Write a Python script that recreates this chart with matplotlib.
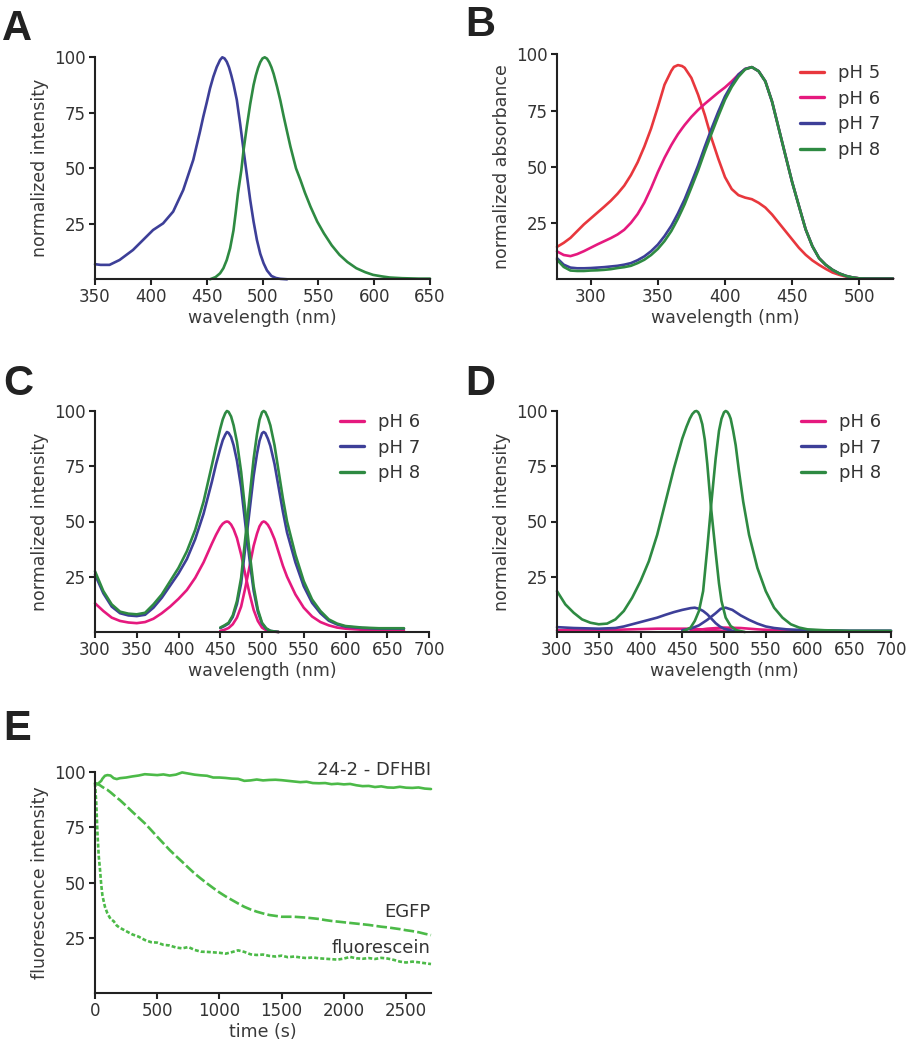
import matplotlib
matplotlib.use("Agg")
import matplotlib.pyplot as plt

plt.rcParams['font.family'] = ['DejaVu Sans']
plt.rcParams['lines.solid_joinstyle'] = 'round'
plt.rcParams['lines.solid_capstyle'] = 'round'

# ---------------- data ----------------
# Panel A
A_ex_wl = [350, 355, 363, 372, 384, 393, 402, 411, 420, 429, 438, 444, 447, 450, 453, 456, 459, 462, 464,
           466, 468, 470, 472, 474, 477, 480, 483, 486, 489, 492, 495, 498, 501, 504, 508, 512, 516, 522]
A_ex = [6.8, 6.5, 6.5, 8.7, 13.2, 17.7, 22.2, 25.2, 30.5, 40.2, 53.8, 66.5, 73.3, 79.5, 86, 91.3, 95.6,
        98.8, 100, 99.5, 98, 95.5, 92, 88, 80.8, 70, 58.3, 47, 35.7, 26, 17.7, 11.5, 7.2, 4, 1.5, 0.6,
        0.2, 0]
A_em_wl = [453, 458, 462, 465, 468, 471, 474, 476, 478, 481, 483, 486, 489, 492, 494, 496, 498, 500, 502,
           504, 506, 508, 510, 513, 516, 519, 522, 525, 530, 534, 538, 543, 549, 555, 562, 569, 576, 584,
           592, 599, 607, 614, 625, 640, 650]
A_em = [0, 1, 2.7, 5, 8.7, 14, 22, 30, 38.7, 49, 58, 69, 79, 87.5, 91.8, 95.2, 97.8, 99.5, 100, 99.4,
        97.8, 95.5, 92.5, 86.8, 80.5, 73.3, 66.5, 59.8, 50, 44.7, 39, 32.7, 26, 20.7, 15.3, 11, 7.8, 5,
        3.2, 2, 1.3, 0.8, 0.5, 0.3, 0.3]

# Panel B (absorbance)
B_wl = [275, 280, 285, 290, 295, 300, 305, 310, 315, 320, 325, 330, 335, 340, 345, 350, 355, 360, 362,
        365, 368, 370, 375, 380, 385, 390, 395, 400, 405, 410, 415, 420, 425, 430, 435, 440, 445, 450,
        455, 460, 465, 470, 475, 480, 485, 490, 495, 500, 505, 510, 515, 520, 525]
B_pH5 = [14.4, 16.2, 18.4, 21.4, 24.4, 27.0, 29.6, 32.2, 34.9, 38.0, 41.6, 46.3, 52.0, 59.0, 67.0, 76.5,
         86.5, 92.6, 94.4, 95.2, 94.8, 94.0, 89.5, 82.0, 73.0, 62.6, 53.6, 45.4, 40.1, 37.4, 36.3, 35.6,
         34.0, 31.9, 28.8, 25.1, 21.4, 17.7, 14.0, 10.9, 8.4, 6.4, 4.6, 3.0, 2.0, 1.2, 0.7, 0.4, 0.3,
         0.3, 0.3, 0.3, 0.3]
B_pH6 = [12.4, 10.8, 10.3, 11.2, 12.5, 14.0, 15.5, 16.9, 18.3, 19.9, 22.0, 25.1, 29.0, 34.1, 40.5, 47.6,
         54.0, 59.6, 61.6, 64.5, 67.0, 68.6, 72.2, 75.3, 78.0, 80.5, 83.0, 85.3, 88.0, 91.0, 93.5, 94.3,
         92.5, 88.0, 79.0, 67.0, 55.0, 43.1, 32.6, 22.2, 14.7, 9.4, 6.4, 4.2, 2.6, 1.5, 0.8, 0.4, 0.3,
         0.3, 0.3, 0.3, 0.3]
B_pH7 = [9.4, 6.5, 5.2, 4.9, 4.9, 5.0, 5.2, 5.4, 5.7, 6.0, 6.5, 7.2, 8.5, 10.2, 12.5, 15.4,
         19.2, 23.7, 25.9, 29.3, 33.1, 35.6, 43.0, 50.6, 59.0, 67.0, 74.5, 81.3, 86.5, 91.0, 93.5, 94.3,
         92.5, 88.0, 79.0, 67.0, 55.0, 43.1, 32.6, 22.2, 14.7, 9.4, 6.4, 4.2, 2.6, 1.5, 0.8, 0.4, 0.3,
         0.3, 0.3, 0.3, 0.3]
B_pH8 = [8.7, 5.5, 3.9, 3.7, 3.7, 3.9, 4.0, 4.2, 4.5, 5.0, 5.4, 6.0, 7.2, 8.7, 10.8, 13.5,
         17.0, 21.4, 23.6, 27.0, 30.8, 33.4, 40.8, 48.4, 56.8, 64.8, 72.5, 79.8, 85.5, 90.0, 93.3, 94.3,
         92.5, 88.0, 79.0, 67.0, 55.0, 43.1, 32.6, 22.2, 14.7, 9.4, 6.4, 4.2, 2.6, 1.5, 0.8, 0.4, 0.3,
         0.3, 0.3, 0.3, 0.3]

# Panel C
C_ex_wl = [300, 310, 320, 330, 340, 350, 360, 370, 380, 390, 400, 410, 420, 430, 440, 445, 450, 453, 456,
           458, 460, 463, 466, 470, 475, 480, 485, 490, 495, 500, 505, 510, 520]
C_ex_pH6 = [13, 9.5, 6.5, 5, 4.3, 4, 4.5, 6, 8.5, 11.5, 15, 19, 24.5, 31.5, 40, 44, 47.5, 49, 49.8,
            50, 49.8, 48.6, 46.5, 42.5, 35, 26, 17.5, 10, 5, 2, 0.8, 0.3, 0]
C_ex_pH7 = [26, 17.5, 11.5, 8.5, 7.5, 7.2, 7.8, 11, 15.5, 21, 26.5, 33, 42, 53.5, 68, 76, 83, 86.8, 89.3,
            90.5, 90.1, 88.2, 84.5, 77.5, 65.5, 49, 33, 18.6, 9.2, 3.8, 1.5, 0.5, 0]
C_ex_pH8 = [27.5, 18.5, 12.5, 9.2, 8.3, 8.0, 8.7, 12.5, 17.0, 23.0, 29.0, 36.5, 46.2, 59.0, 75.5, 84, 92,
            96.2, 99, 100, 99.6, 97.5, 93.5, 86, 72.5, 54.5, 36.5, 20.7, 10.2, 4.2, 1.7, 0.5, 0]
C_em_wl = [450, 455, 460, 465, 470, 475, 480, 485, 490, 494, 497, 500, 502, 504, 507, 510, 515, 520, 525,
           530, 540, 550, 560, 570, 580, 590, 600, 620, 640, 670]
C_em_pH6 = [0.5, 1, 1.8, 3.5, 6.5, 11.5, 20, 29.5, 39, 44.5, 47.8, 49.6, 50, 49.7, 48.5, 46.5, 42, 36,
            30, 25, 17, 11, 7, 4.5, 3, 2, 1.5, 1, 0.8, 0.8]
C_em_pH7 = [1.8, 2.7, 3.8, 6.8, 12.6, 22, 38.3, 54.5, 70.7, 80.6, 86.5, 89.9, 90.5, 90, 87.5, 84.2, 76,
            65.3, 54.5, 45, 31.5, 20.7, 13.2, 8.5, 5.1, 3.4, 2.4, 1.8, 1.5, 1.5]
C_em_pH8 = [2, 3, 4.2, 7.5, 14, 24.5, 42.5, 60.5, 78.5, 89.5, 96, 99.4, 100, 99.5, 97, 93.5, 84.5, 72.5,
            60.5, 50, 35, 23, 14.7, 9.5, 5.7, 3.8, 2.7, 2, 1.7, 1.7]

# Panel D
D_ex8_wl = [300, 310, 320, 330, 340, 350, 360, 370, 380, 390, 400, 410, 420, 430, 440, 450, 455, 459, 462,
            465, 467, 469, 471, 474, 477, 480, 484, 487, 490, 494, 497, 502, 508, 515, 525]
D_ex_pH8 = [18.5, 12.5, 8.7, 5.7, 4.2, 3.5, 3.8, 5.7, 9.5, 15.5, 23, 32, 44, 59, 74, 87.5, 92.8, 96.5,
            98.6, 99.8, 100, 99.5, 98, 94, 87, 76, 58, 47, 36, 22, 14, 6.5, 2.7, 0.8, 0]
D_em8_wl = [450, 460, 465, 470, 475, 480, 485, 490, 494, 497, 500, 502, 504, 506, 508, 511, 514, 518, 523,
            530, 540, 550, 560, 570, 580, 590, 600, 620, 650, 700]
D_em_pH8 = [0, 2, 5, 9.5, 18.5, 38, 59, 78.5, 91, 96.5, 99.4, 100, 99.6, 98.4, 96.5, 91, 84.5, 72.5, 59,
            44, 29, 18.5, 11, 6.5, 3.5, 2, 1.2, 0.8, 0.5, 0.5]
D_ex7_wl = [300, 320, 350, 370, 380, 390, 400, 410, 420, 430, 440, 450, 460, 465, 470, 475, 480, 485, 490,
            495, 500, 510, 520]
D_ex_pH7 = [2.2, 1.8, 1.5, 1.8, 2.5, 3.5, 4.5, 5.5, 6.5, 7.8, 9, 10, 10.8, 11, 10.5, 9.5, 8, 6, 4, 2.5,
            1.5, 0.6, 0.3]
D_em7_wl = [450, 460, 470, 480, 490, 496, 502, 510, 520, 530, 540, 550, 560, 575, 600, 650, 700]
D_em_pH7 = [0.8, 1.5, 3, 5.5, 8.5, 10.5, 11, 10, 7.5, 5.5, 3.8, 2.5, 1.8, 1.2, 0.8, 0.6, 0.6]
D_ex6_wl = [300, 350, 400, 420, 440, 460, 480, 500, 520]
D_ex_pH6 = [0.8, 0.8, 1.3, 1.5, 1.5, 1.5, 1, 0.5, 0.2]
D_em6_wl = [460, 480, 500, 520, 540, 560, 580, 620, 700]
D_em_pH6 = [0.5, 1.5, 2, 1.8, 1.2, 0.8, 0.5, 0.3, 0.3]

# Panel E (photobleaching)
E_time = [0, 10, 20, 30, 40, 50, 60, 80, 100, 125, 150, 175, 200, 250, 300, 350, 400, 450, 500, 550, 600,
          650, 700, 750, 800, 850, 900, 950, 1000, 1050, 1100, 1150, 1200, 1250, 1300, 1350, 1400, 1450,
          1500, 1550, 1600, 1650, 1700, 1750, 1800, 1850, 1900, 1950, 2000, 2050, 2100, 2150, 2200, 2250,
          2300, 2350, 2400, 2450, 2500, 2550, 2600, 2650, 2700]
E_dfhbi = [95, 94.5, 94.5, 95, 95.5, 96, 97, 98.3, 98.6, 98.4, 97.2, 96.8, 97.2, 97.5, 98.0, 98.4, 99.0,
           98.8, 98.6, 98.9, 98.4, 98.8, 99.8, 99.3, 98.8, 98.5, 98.3, 97.5, 97.5, 97.3, 97.0, 96.9, 96.0,
           96.2, 96.6, 96.2, 96.4, 96.5, 96.3, 96.0, 95.7, 95.4, 95.6, 95.0, 94.9, 95.0, 94.5, 94.7, 94.4,
           94.6, 94.0, 93.6, 93.7, 93.2, 93.5, 93.0, 92.9, 93.3, 92.9, 92.8, 93.0, 92.5, 92.3]
E_egfp = [95, 94.8, 94.5, 94.3, 94, 93.6, 93.2, 92.5, 91.9, 90.8, 89.6, 88.4, 87.3, 84.7, 82, 79.4, 76.8,
          73.8, 70.7, 67.7, 64.7, 62, 59.4, 56.7, 54.1, 51.8, 49.6, 47.5, 45.5, 43.7, 42.1, 40.5, 39, 37.8,
          36.8, 36, 35.3, 34.9, 34.5, 34.5, 34.5, 34.3, 34.1, 33.8, 33.5, 33.0, 32.6, 32.3, 32, 31.7, 31.4,
          31.1, 30.8, 30.4, 30.0, 29.7, 29.3, 28.9, 28.4, 28.0, 27.5, 26.8, 26.2]
E_fluor = [95, 86, 72, 62, 56, 49, 44, 39, 36, 33.5, 32.5, 30.5, 29.5, 28, 26.5, 25.5, 24, 23, 22.8, 21.8,
           21.5, 20.6, 20.2, 20.8, 19.5, 18.7, 18.6, 18.4, 18.2, 17.8, 18.5, 19.3, 18.6, 17.5, 17.2, 17.4,
           16.8, 16.5, 16.9, 16.2, 16.5, 16.1, 15.8, 16.1, 15.7, 15.5, 15.3, 15.1, 15.6, 16.3, 15.7, 15.5,
           15.8, 15.4, 15.9, 15.6, 15.0, 14.2, 13.8, 14.2, 13.9, 13.5, 13.1]
E_labels = ['24-2 - DFHBI', 'EGFP', 'fluorescein']
E_label_y = [101, 36.7, 20.4]

# ---------------- style ----------------
RED = '#e8373d'
PINK = '#e5197e'
BLUE = '#3d3f98'
GREEN = '#2e8a42'
LGREEN = '#4cba48'
AXC = '#222222'
TXT = '#333333'
LW = 1.9

W, H = 909, 1050
fig = plt.figure(figsize=(W / 100, H / 100), dpi=100)


def box(l, t, r, b):
    return [l / W, 1 - b / H, (r - l) / W, (b - t) / H]


def style(ax, xlim, xticks, xlabel, ylabel):
    for s in ['top', 'right']:
        ax.spines[s].set_visible(False)
    for s in ['left', 'bottom']:
        ax.spines[s].set_linewidth(1.5)
        ax.spines[s].set_color(AXC)
    ax.set_xlim(*xlim)
    ax.set_ylim(0, 100)
    ax.set_xticks(xticks)
    ax.set_yticks([25, 50, 75, 100])
    ax.tick_params(direction='out', length=4.5, width=1.5, color=AXC,
                   labelsize=12, labelcolor=TXT, pad=2)
    ax.set_xlabel(xlabel, fontsize=12.5, color='#3a3a3a', labelpad=2)
    ax.set_ylabel(ylabel, fontsize=12.5, color='#3a3a3a', labelpad=4)


def legend(ax, x, y):
    leg = ax.legend(loc='upper left', bbox_to_anchor=(x, y), frameon=False, handlelength=1.35,
                    handletextpad=0.75, labelspacing=0.42, fontsize=13, borderaxespad=0, borderpad=0)
    for t in leg.get_texts():
        t.set_color(TXT)
    for l in leg.get_lines():
        l.set_linewidth(2.4)


def letter(x, y, s):
    fig.text(x / W, 1 - y / H, s, fontsize=30, fontweight='bold', family='Liberation Sans',
             va='baseline', ha='left', color=AXC)


# Panel A
axA = fig.add_axes(box(95, 57.3, 430, 279.3))
axA.plot(A_ex_wl, A_ex, color=BLUE, lw=LW, clip_on=False)
axA.plot(A_em_wl, A_em, color=GREEN, lw=LW, clip_on=False)
style(axA, (350, 650), [350, 400, 450, 500, 550, 600, 650], 'wavelength (nm)', 'normalized intensity')

# Panel B
axB = fig.add_axes(box(557, 54.3, 893, 279.3))
axB.plot(B_wl, B_pH5, color=RED, lw=LW, label='pH 5', clip_on=False)
axB.plot(B_wl, B_pH6, color=PINK, lw=LW, label='pH 6', clip_on=False)
axB.plot(B_wl, B_pH7, color=BLUE, lw=LW, label='pH 7', clip_on=False)
axB.plot(B_wl, B_pH8, color=GREEN, lw=LW, label='pH 8', clip_on=False)
style(axB, (275, 525), [300, 350, 400, 450, 500], 'wavelength (nm)', 'normalized absorbance')
legend(axB, 0.723, 0.956)

# Panel C
axC = fig.add_axes(box(95, 411, 429, 632))
axC.plot(C_ex_wl, C_ex_pH6, color=PINK, lw=LW, label='pH 6', clip_on=False)
axC.plot(C_em_wl, C_em_pH6, color=PINK, lw=LW, clip_on=False)
axC.plot(C_ex_wl, C_ex_pH7, color=BLUE, lw=LW, label='pH 7', clip_on=False)
axC.plot(C_em_wl, C_em_pH7, color=BLUE, lw=LW, clip_on=False)
axC.plot(C_ex_wl, C_ex_pH8, color=GREEN, lw=LW, label='pH 8', clip_on=False)
axC.plot(C_em_wl, C_em_pH8, color=GREEN, lw=LW, clip_on=False)
style(axC, (300, 700), [300, 350, 400, 450, 500, 550, 600, 650, 700], 'wavelength (nm)',
      'normalized intensity')
legend(axC, 0.733, 0.991)

# Panel D
axD = fig.add_axes(box(557, 411, 891, 632))
axD.plot(D_ex6_wl, D_ex_pH6, color=PINK, lw=LW, label='pH 6', clip_on=False)
axD.plot(D_em6_wl, D_em_pH6, color=PINK, lw=LW, clip_on=False)
axD.plot(D_ex7_wl, D_ex_pH7, color=BLUE, lw=LW, label='pH 7', clip_on=False)
axD.plot(D_em7_wl, D_em_pH7, color=BLUE, lw=LW, clip_on=False)
axD.plot(D_ex8_wl, D_ex_pH8, color=GREEN, lw=LW, label='pH 8', clip_on=False)
axD.plot(D_em8_wl, D_em_pH8, color=GREEN, lw=LW, clip_on=False)
style(axD, (300, 700), [300, 350, 400, 450, 500, 550, 600, 650, 700], 'wavelength (nm)',
      'normalized intensity')
legend(axD, 0.73, 0.991)

# Panel E
axE = fig.add_axes(box(95, 772, 431, 993))
axE.plot(E_time, E_dfhbi, color=LGREEN, lw=LW, clip_on=False)
axE.plot(E_time, E_egfp, color=LGREEN, lw=LW, dashes=(4, 1.2), clip_on=False)
axE.plot(E_time, E_fluor, color=LGREEN, lw=LW, dashes=(1.5, 0.8), clip_on=False)
style(axE, (0, 2700), [0, 500, 1000, 1500, 2000, 2500], 'time (s)', 'fluorescence intensity')
for s, yv in zip(E_labels, E_label_y):
    axE.text(2700, yv, s, ha='right', va='center', fontsize=13, color=TXT)

letter(2, 40, 'A')
letter(465, 36, 'B')
letter(3, 395, 'C')
letter(465, 395, 'D')
letter(3, 740, 'E')

fig.savefig('out.png', dpi=100)
